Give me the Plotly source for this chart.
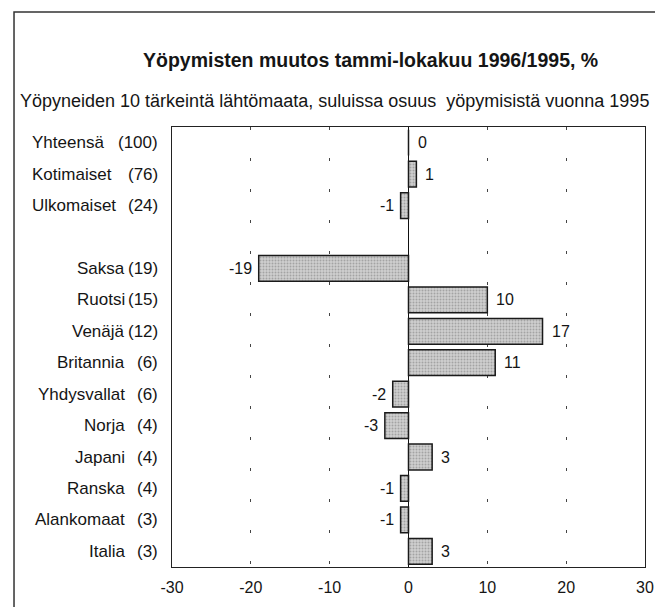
import plotly.graph_objects as go

categories = ["Yhteensä", "Kotimaiset", "Ulkomaiset", " ", "Saksa", "Ruotsi", "Venäjä",
              "Britannia", "Yhdysvallat", "Norja", "Japani", "Ranska", "Alankomaat", "Italia"]
shares = [100, 76, 24, None, 19, 15, 12, 6, 6, 4, 4, 4, 3, 3]
values = [0, 1, -1, None, -19, 10, 17, 11, -2, -3, 3, -1, -1, 3]
tick_vals = [-30, -20, -10, 0, 10, 20, 30]
summary_rows = ["Yhteensä", "Kotimaiset", "Ulkomaiset"]

FONT = "Liberation Sans, Arial, sans-serif"
INK = "#151515"

fig = go.Figure()
fig.add_trace(go.Bar(
    x=values, y=categories, orientation="h",
    marker=dict(color="#bdbdbd", line=dict(color="#1a1a1a", width=1.5),
                pattern=dict(shape=".", fgcolor="#777", bgcolor="#cfcfcf", size=3, solidity=0.35)),
    width=0.82, hoverinfo="skip", showlegend=False,
))

annotations = []
for c, v, s in zip(categories, values, shares):
    if v is not None:
        annotations.append(dict(
            x=v, y=c, xref="x", yref="y", text=str(v), showarrow=False,
            xanchor="left" if v >= 0 else "right", xshift=7 if v >= 0 else -5,
            font=dict(size=16, color=INK, family=FONT)))
    if s is not None:
        annotations.append(dict(
            x=-0.025, y=c, xref="paper", yref="y", text=f"({s})", showarrow=False,
            xanchor="right", font=dict(size=17, color=INK, family=FONT)))
        if c in summary_rows:
            annotations.append(dict(
                x=-0.300, y=c, xref="paper", yref="y", text=c, showarrow=False,
                xanchor="left", font=dict(size=17, color=INK, family=FONT)))
        else:
            annotations.append(dict(
                x=-0.0945, y=c, xref="paper", yref="y", text=c, showarrow=False,
                xanchor="right", font=dict(size=17, color=INK, family=FONT)))

annotations.append(dict(
    x=0.42, y=1.152, xref="paper", yref="paper", showarrow=False, xanchor="center",
    yanchor="middle", text="<b>Yöpymisten muutos tammi-lokakuu 1996/1995, %</b>",
    font=dict(size=19.5, color=INK, family=FONT)))
annotations.append(dict(
    x=-0.326, y=1.059, xref="paper", yref="paper", showarrow=False, xanchor="left",
    yanchor="middle",
    text="Yöpyneiden 10 tärkeintä lähtömaata, suluissa osuus  yöpymisistä vuonna 1995",
    font=dict(size=18, color=INK, family=FONT)))

fig.update_layout(
    width=655, height=607,
    margin=dict(l=172, r=10, t=127, b=40, autoexpand=False),
    paper_bgcolor="white", plot_bgcolor="white",
    font=dict(family=FONT, size=16, color=INK),
    annotations=annotations,
    shapes=[dict(type="rect", xref="paper", yref="paper", x0=-0.334, x1=1.2, y0=-0.3, y1=1.2614,
                 line=dict(color="#333", width=1.5), fillcolor="rgba(0,0,0,0)", layer="below")],
    xaxis=dict(range=[-30, 30], tickvals=tick_vals, ticktext=[str(t) for t in tick_vals],
               showline=True, linecolor="#222", linewidth=1.2, mirror=True, ticks="",
               showgrid=True, gridcolor="#444", gridwidth=1.2, griddash="3px,28px",
               zeroline=True, zerolinecolor="#111", zerolinewidth=1.3,
               ticklabeloverflow="allow", ticklabelstandoff=6, automargin=False,
               tickfont=dict(size=16, family=FONT, color=INK), fixedrange=True),
    yaxis=dict(categoryorder="array", categoryarray=categories, autorange="reversed",
               showticklabels=False, ticks="", showline=True, linecolor="#222",
               linewidth=1.2, mirror=True, showgrid=False, fixedrange=True, automargin=False),
)

fig.write_html("out.html", config={"displayModeBar": False},
               post_script="document.body.style.margin='0';document.body.style.overflow='hidden';")
